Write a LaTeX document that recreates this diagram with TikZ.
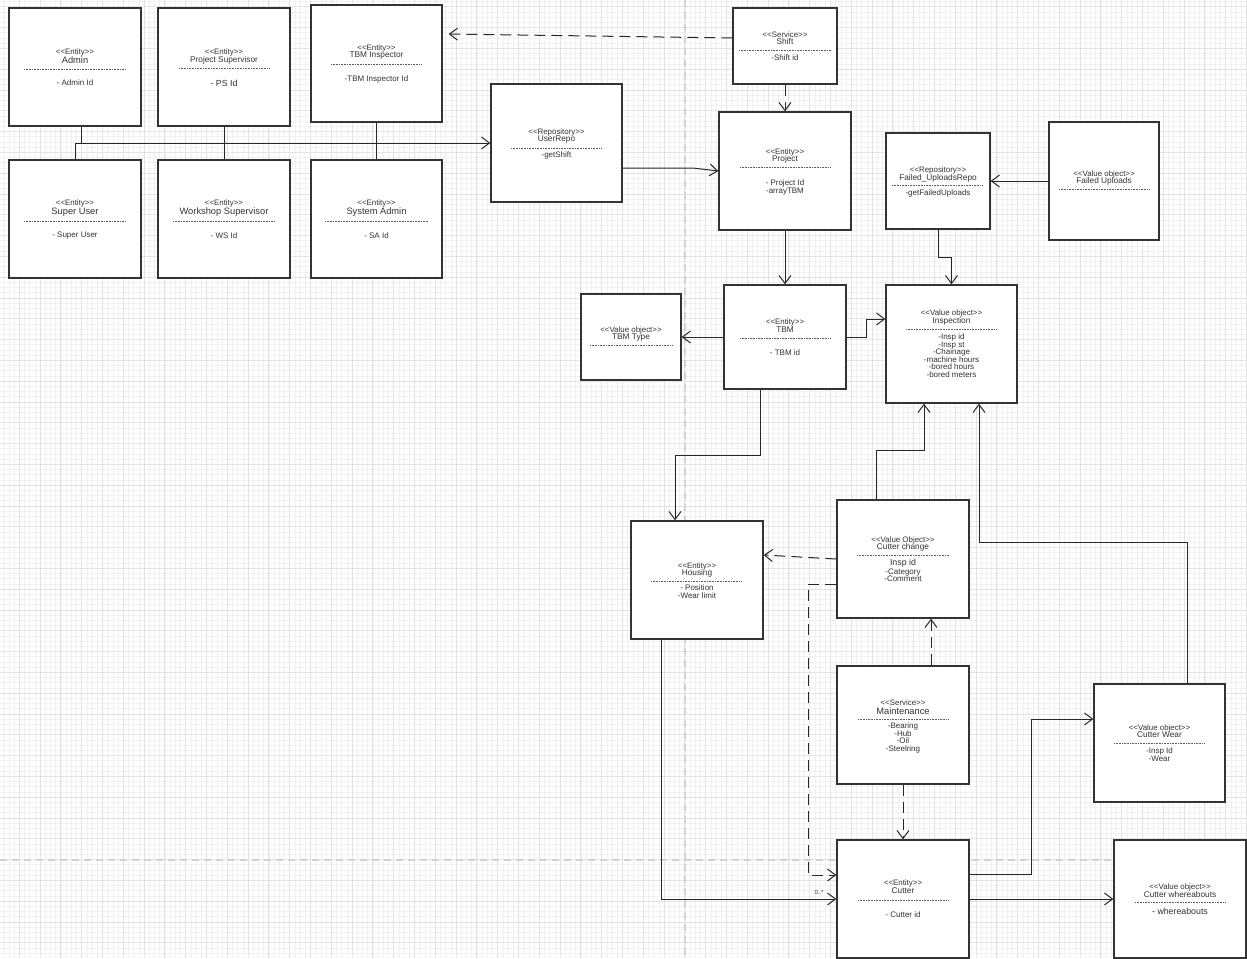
\documentclass[tikz,border=0pt]{standalone}
\usepackage{fontspec}
\setmainfont{Liberation Sans}
\usetikzlibrary{arrows.meta}
\definecolor{ink}{HTML}{333333}
\definecolor{gminor}{HTML}{F1F1F1}
\definecolor{gmajor}{HTML}{E3E3E3}
\definecolor{pagebrk}{HTML}{D2D2D2}
\newcommand\stl{<\kern0pt<}
\newcommand\stg{>\kern0pt>}
\newcommand\attrfont{\fontsize{8}{7.6}\selectfont\lineskiplimit=-4pt\relax}
\begin{document}
\begin{tikzpicture}[x=1pt,y=-1pt,
  ubox/.style={draw=ink, fill=white, line width=1.4pt, inner sep=0pt, minimum width=132pt, minimum height=118pt},
  stereo/.style={font=\fontsize{7.9}{8}\selectfont, inner sep=0pt, text=ink},
  nmtxt/.style={font=\fontsize{8.3}{9}\selectfont, inner sep=0pt, text=ink},
  nmbig/.style={font=\fontsize{9.3}{10}\selectfont, inner sep=0pt, text=ink},
  attr/.style={font=\attrfont, inner sep=0pt, text=ink, align=center},
  attrbig/.style={font=\fontsize{8.8}{9}\selectfont, inner sep=0pt, text=ink, align=center},
  sepline/.style={draw=ink!80, line width=0.6pt, dash pattern=on 1pt off 0.6pt},
  conn/.style={draw=black!85, line width=1pt},
  dconn/.style={draw=black!85, line width=1pt, dash pattern=on 11pt off 6pt},
  arr/.style={-{Straight Barb[length=8pt,width=12pt]}},
  minorline/.style={draw=gminor, line width=0.5pt},
  majorline/.style={draw=gmajor, line width=0.8pt},
  pageline/.style={draw=pagebrk, line width=1.3pt, dash pattern=on 7pt off 5pt}
]
\useasboundingbox (0,0) rectangle (1247,958);
\fill[white] (0,0) rectangle (1247,958);
% grid
\foreach \k in {0,...,239} {\pgfmathsetmacro\xx{3.6+5.2*\k}\draw[minorline] (\xx,0) -- (\xx,958);}
\foreach \k in {0,...,183} {\pgfmathsetmacro\yy{1.5+5.2*\k}\draw[minorline] (0,\yy) -- (1247,\yy);}
\foreach \k in {0,...,59} {\pgfmathsetmacro\xx{19.2+20.8*\k}\draw[majorline] (\xx,0) -- (\xx,958);}
\foreach \k in {0,...,45} {\pgfmathsetmacro\yy{6.7+20.8*\k}\draw[majorline] (0,\yy) -- (1247,\yy);}
% page breaks
\draw[pageline] (685,0) -- (685,958);
\draw[pageline] (0,860) -- (1247,860);

% boxes
\node[ubox] (admin) at (75,67) {};
\node[ubox] (ps) at (224,67) {};
\node[ubox, minimum width=131pt, minimum height=117pt] (tbmi) at (376.5,63.5) {};
\node[ubox] (su) at (75,219) {};
\node[ubox] (ws) at (224,219) {};
\node[ubox, minimum width=131pt] (sa) at (376.5,219) {};
\node[ubox, minimum width=131pt] (userrepo) at (556.5,143) {};
\node[ubox, minimum width=104pt, minimum height=76pt] (shift) at (785,46) {};
\node[ubox] (project) at (785,171) {};
\node[ubox, minimum width=104pt, minimum height=96pt] (fur) at (938,181) {};
\node[ubox, minimum width=110pt] (fu) at (1104,181) {};
\node[ubox, minimum width=100pt, minimum height=86pt] (tbmtype) at (631,337) {};
\node[ubox, minimum width=122pt, minimum height=104pt] (tbm) at (785,337) {};
\node[ubox, minimum width=131pt] (insp) at (951.5,344) {};
\node[ubox] (housing) at (697,580) {};
\node[ubox] (cc) at (903,559) {};
\node[ubox] (maint) at (903,725) {};
\node[ubox, minimum width=131pt] (cw) at (1159.5,743) {};
\node[ubox] (cutter) at (903,899) {};
\node[ubox] (cwh) at (1180,899) {};

% texts
\node[stereo] (adminS) at (75,52) {\stl Entity\stg};
\node[nmbig] (adminN) at (75,60) {Admin};
\draw[sepline] (24,69) -- (126,69);
\node[attr] (adminA) at (75,83) {- Admin Id};

\node[stereo] (psS) at (224,52) {\stl Entity\stg};
\node[nmtxt] (psN) at (224,60) {Project Supervisor};
\draw[sepline] (179,68) -- (270,68);
\node[attrbig] (psA) at (224,83) {- PS Id};

\node[stereo] (tbmiS) at (376.5,48) {\stl Entity\stg};
\node[nmtxt] (tbmiN) at (376.5,56) {TBM Inspector};
\draw[sepline] (331,64) -- (422,64);
\node[attr] (tbmiA) at (376.5,79) {-TBM Inspector Id};

\node[stereo] (suS) at (75,203) {\stl Entity\stg};
\node[nmbig] (suN) at (75,212) {Super User};
\draw[sepline] (24,221) -- (126,221);
\node[attr] (suA) at (75,236) {- Super User};

\node[stereo] (wsS) at (224,203) {\stl Entity\stg};
\node[nmbig] (wsN) at (224,212) {Workshop Supervisor};
\draw[sepline] (173,221) -- (275,221);
\node[attr] (wsA) at (224,236) {- WS Id};

\node[stereo] (saS) at (376.5,203) {\stl Entity\stg};
\node[nmbig] (saN) at (376.5,212) {System Admin};
\draw[sepline] (325,221) -- (428,221);
\node[attr] (saA) at (376.5,236) {- SA Id};

\node[stereo] (urS) at (556.5,132) {\stl Repository\stg};
\node[nmtxt] (urN) at (556.5,140) {UserRepo};
\draw[sepline] (511,148) -- (602,148);
\node[attr] (urA) at (556.5,155) {-getShift};

\node[stereo] (shS) at (785,35) {\stl Service\stg};
\node[nmtxt] (shN) at (785,42) {Shift};
\draw[sepline] (739,50) -- (831,50);
\node[attr] (shA) at (785,58) {-Shift id};

\node[stereo] (prS) at (785,152) {\stl Entity\stg};
\node[nmtxt] (prN) at (785,159) {Project};
\draw[sepline] (740,167) -- (831,167);
\node[attr, anchor=north] (prA) at (785,179.5) {- Project Id\\-arrayTBM};

\node[stereo] (furS) at (938,170) {\stl Repository\stg};
\node[nmtxt] (furN) at (938,178) {Failed\_UploadsRepo};
\draw[sepline] (892,185) -- (983,185);
\node[attr] (furA) at (938,193) {-getFailedUploads};

\node[stereo] (fuS) at (1104,174) {\stl Value object\stg};
\node[nmtxt] (fuN) at (1104,181) {Failed Uploads};
\draw[sepline] (1059,189) -- (1149,189);

\node[stereo] (ttS) at (631,330) {\stl Value object\stg};
\node[nmtxt] (ttN) at (631,338) {TBM Type};
\draw[sepline] (590,345) -- (673,345);

\node[stereo] (tbmS) at (785,322) {\stl Entity\stg};
\node[nmtxt] (tbmN) at (785,330) {TBM};
\draw[sepline] (740,338) -- (831,338);
\node[attr] (tbmA) at (785,353) {- TBM id};

\node[stereo] (inS) at (951.5,313) {\stl Value object\stg};
\node[nmtxt] (inN) at (951.5,321) {Inspection};
\draw[sepline] (906,329) -- (997,329);
\node[attr, anchor=north] (inA) at (951.5,333.5) {-Insp id\\-Insp st\\-Chainage\\-machine hours\\-bored hours\\-bored meters};

\node[stereo] (hoS) at (697,566) {\stl Entity\stg};
\node[nmtxt] (hoN) at (697,573) {Housing};
\draw[sepline] (651,581) -- (742,581);
\node[attr, anchor=north] (hoA) at (697,584.5) {- Position\\-Wear limit};

\node[stereo] (ccS) at (903,540) {\stl Value Object\stg};
\node[nmtxt] (ccN) at (903,547) {Cutter change};
\draw[sepline] (857,555) -- (949,555);
\node[attrbig] (ccI) at (903,563) {Insp id};
\node[attr, anchor=north] (ccA) at (903,568.5) {-Category\\-Comment};

\node[stereo] (maS) at (903,703) {\stl Service\stg};
\node[nmbig] (maN) at (903,711) {Maintenance};
\draw[sepline] (858,719) -- (949,719);
\node[attr, anchor=north] (maA) at (903,722.5) {-Bearing\\-Hub\\-Oil\\-Steelring};

\node[stereo] (cwS) at (1159.5,728) {\stl Value object\stg};
\node[nmtxt] (cwN) at (1159.5,735) {Cutter Wear};
\draw[sepline] (1114,743) -- (1205,743);
\node[attr, anchor=north] (cwA) at (1159.5,747.5) {-Insp Id\\-Wear};

\node[stereo] (cuS) at (903,883) {\stl Entity\stg};
\node[nmtxt] (cuN) at (903,891) {Cutter};
\draw[sepline] (858,900) -- (949,900);
\node[attr] (cuA) at (903,915) {- Cutter id};

\node[stereo] (cwhS) at (1180,887) {\stl Value object\stg};
\node[nmtxt] (cwhN) at (1180,895) {Cutter whereabouts};
\draw[sepline] (1135,902) -- (1225,902);
\node[attrbig] (cwhA) at (1180,911) {- whereabouts};

% connectors
\draw[conn, arr] (su.north) |- (userrepo.west);
\draw[conn] ([xshift=6pt]admin.south) -- ([xshift=6pt]admin.south |- userrepo.west);
\draw[conn] (ps.south) -- (ws.north);
\draw[conn] (tbmi.south) -- (sa.north);
\draw[dconn, arr] ([yshift=8pt]shift.west) -- ([xshift=6pt,yshift=29.5pt]tbmi.east);
\draw[dconn, arr] (shift.south) -- (project.north);
\draw[conn, arr] ([yshift=-25pt]userrepo.east) -- ++(70,0) -- (project.west);
\draw[conn, arr] (project.south) -- (tbm.north);
\draw[conn, arr] (tbm.west) -- (tbmtype.east);
\draw[conn, arr] (tbm.east) -- ++(20,0) |- ([yshift=25pt]insp.west);
\draw[conn, arr] (fu.west) -- (fur.east);
\draw[conn, arr] (fur.south) -- ++(0,28) -| (insp.north);
\draw[conn, arr] ([xshift=-25pt]tbm.south) -- ++(0,66) -| ([xshift=-22pt]housing.north);
\draw[dconn, arr] (cc.west) -- ([yshift=25pt]housing.east);
\draw[conn, arr] ([xshift=-27pt]cc.north) -- ++(0,-49) -| ([xshift=-27.5pt]insp.south);
\draw[conn, arr] ([xshift=27.5pt]cw.north) -- ++(0,-141) -| ([xshift=27.5pt]insp.south);
\draw[dconn, arr] ([yshift=-25pt]cc.west) -- ++(-28,0) |- ([yshift=24pt]cutter.west);
\draw[dconn, arr] ([xshift=28pt]maint.north) -- ([xshift=28pt]cc.south);
\draw[dconn, arr] (maint.south) -- (cutter.north);
\draw[conn, arr] ([xshift=-36pt]housing.south) |- (cutter.west);
\node[font=\fontsize{6}{7}\selectfont, inner sep=0pt, text=ink] (mult) at (819,892) {0..*};
\draw[conn, arr] ([yshift=25pt]cutter.east) -- ++(62,0) |- ([yshift=24pt]cw.west);
\draw[conn, arr] (cutter.east) -- (cwh.west);
\end{tikzpicture}
\end{document}
